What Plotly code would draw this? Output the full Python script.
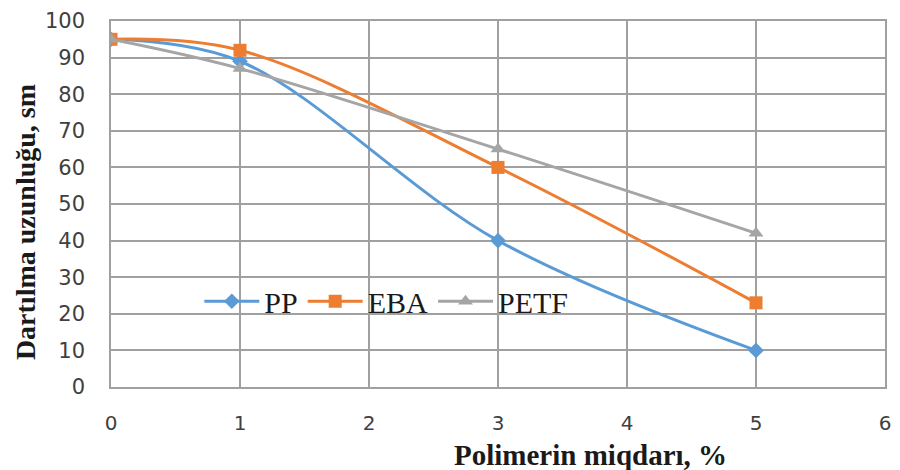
import plotly.graph_objects as go

x_vals = [0, 1, 3, 5]
pp = [95, 89, 40, 10]
eba = [95, 92, 60, 23]
petf = [95, 87, 65, 42]

fig = go.Figure()
fig.add_trace(go.Scatter(x=x_vals, y=pp, name="PP", mode="lines+markers",
                         line=dict(color="#5B9BD5", width=3, shape="spline", smoothing=1),
                         marker=dict(symbol="diamond", size=12, color="#5B9BD5")))
fig.add_trace(go.Scatter(x=x_vals, y=eba, name="EBA", mode="lines+markers",
                         line=dict(color="#ED7D31", width=3, shape="spline", smoothing=1),
                         marker=dict(symbol="square", size=13, color="#ED7D31")))
fig.add_trace(go.Scatter(x=x_vals, y=petf, name="PETF", mode="lines+markers",
                         line=dict(color="#A5A5A5", width=3, shape="spline", smoothing=1),
                         marker=dict(symbol="triangle-up", size=13, color="#A5A5A5")))

pw = 900 - 111 - 9
ph = 470 - 20 - 83

fig.update_layout(
    width=900, height=470,
    margin=dict(l=111, r=9, t=20, b=83),
    paper_bgcolor="white", plot_bgcolor="white",
    showlegend=True,
    legend=dict(orientation="h", x=(200 - 111) / pw, y=(387 - 301) / ph,
                xanchor="left", yanchor="middle",
                font=dict(family="Liberation Serif", size=30, color="#1a1a1a"),
                bgcolor="rgba(0,0,0,0)", itemwidth=55),
    font=dict(family="DejaVu Sans", size=21, color="#404040"),
)
fig.update_xaxes(range=[0, 6], dtick=1, showgrid=True, gridcolor="#a0a0a0", gridwidth=1.5,
                 showline=True, linecolor="#a0a0a0", linewidth=1.5, mirror=True,
                 zeroline=False, ticks="", ticklabelstandoff=17,
                 tickfont=dict(family="DejaVu Sans", size=20, color="#404040"))
fig.update_yaxes(range=[0, 100], dtick=10, showgrid=True, gridcolor="#a0a0a0", gridwidth=1.5,
                 showline=True, linecolor="#a0a0a0", linewidth=1.5, mirror=True,
                 zeroline=False, ticks="", ticklabelstandoff=20,
                 tickfont=dict(family="DejaVu Sans", size=21, color="#404040"))

fig.add_annotation(text="<b>Polimerin miqdarı, %</b>", xref="paper", yref="paper",
                   x=(594 - 111) / pw, y=(387 - 455) / ph, xanchor="center", yanchor="middle",
                   showarrow=False, font=dict(family="Liberation Serif", size=29, color="#1a1a1a"))
fig.add_annotation(text="<b>Dartılma uzunluğu, sm</b>", xref="paper", yref="paper",
                   x=(25 - 111) / pw, y=(387 - 222) / ph, xanchor="center", yanchor="middle",
                   showarrow=False, textangle=-90,
                   font=dict(family="Liberation Serif", size=28, color="#1a1a1a"))

fig.write_html("out.html")
